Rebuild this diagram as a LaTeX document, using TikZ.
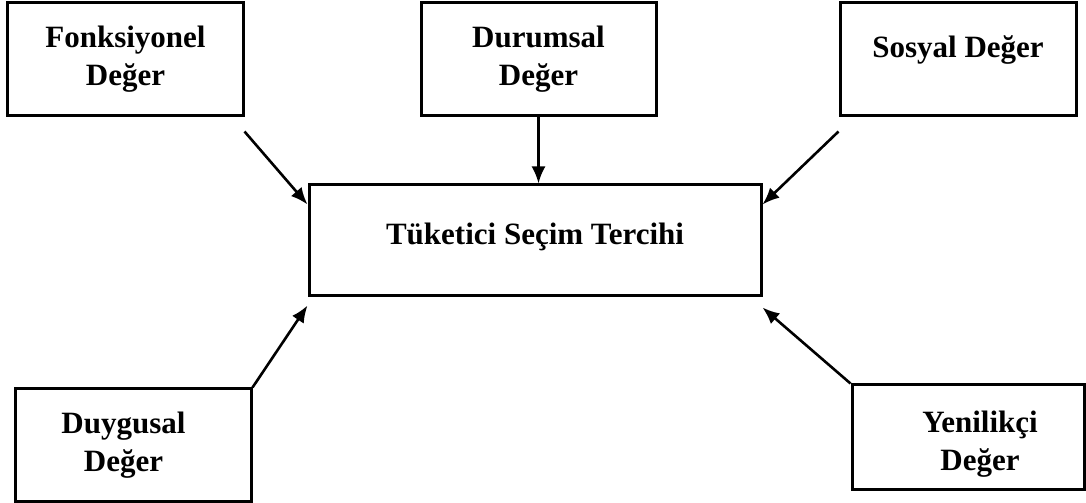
\documentclass[tikz,border=0pt]{standalone}
\usepackage{fontspec}
\setmainfont{Liberation Serif}
\usetikzlibrary{positioning, arrows.meta}

\begin{document}
\begin{tikzpicture}[
        x=1bp, y=1bp,
        every node/.style={font=\bfseries\fontsize{31bp}{38bp}\selectfont},
        deger/.style={rectangle, draw, line width=3bp, align=center, inner sep=0pt, minimum width=235bp, minimum height=113bp}, % value boxes
        ok/.style={line width=2.6bp, -{Latex[length=17bp, width=14bp]}}
      ]
      \useasboundingbox (0,0) rectangle (1086,-503);

      % boxes
      \node[deger] (fonk) at (125.5,-59.5) {Fonksiyonel\\Değer};
      \node[deger] (durum) at (538.5,-59.5) {Durumsal\\Değer};
      \node[deger, minimum width=236bp] (sosyal) at (958,-59.5) {Sosyal Değer\\[-12bp]};
      \node[deger, minimum width=452bp, minimum height=111bp] (merkez) at (535,-240.5) {Tüketici Seçim Tercihi\\[-24bp]};
      \node[deger, minimum height=112bp] (duygu) at (133.5,-445) {Duygusal\hspace*{20bp}\\Değer\hspace*{20bp}};
      \node[deger, minimum width=232bp, minimum height=104bp] (yeni) at (968,-437) {\hspace*{24bp}Yenilikçi\\\hspace*{24bp}Değer\\[-46bp]};

      % free ends of the arrows
      \coordinate[below=14bp of fonk.south east] (fonkuc);
      \coordinate[below=14bp of sosyal.south west] (sosyaluc);
      \coordinate[below=21bp of merkez.north west] (solust);
      \coordinate[below=21bp of merkez.north east] (sagust);
      \coordinate[below=8bp of merkez.south west] (solalt);
      \coordinate[below=10bp of merkez.south east] (sagalt);

      % arrows
      \draw[ok] (fonkuc) -- (solust);
      \draw[ok] (durum.south) -- (durum.south |- merkez.north);
      \draw[ok] (sosyaluc) -- (sagust);
      \draw[ok] (duygu.north east) -- (solalt);
      \draw[ok] (yeni.north west) -- (sagalt);
\end{tikzpicture}
\end{document}
